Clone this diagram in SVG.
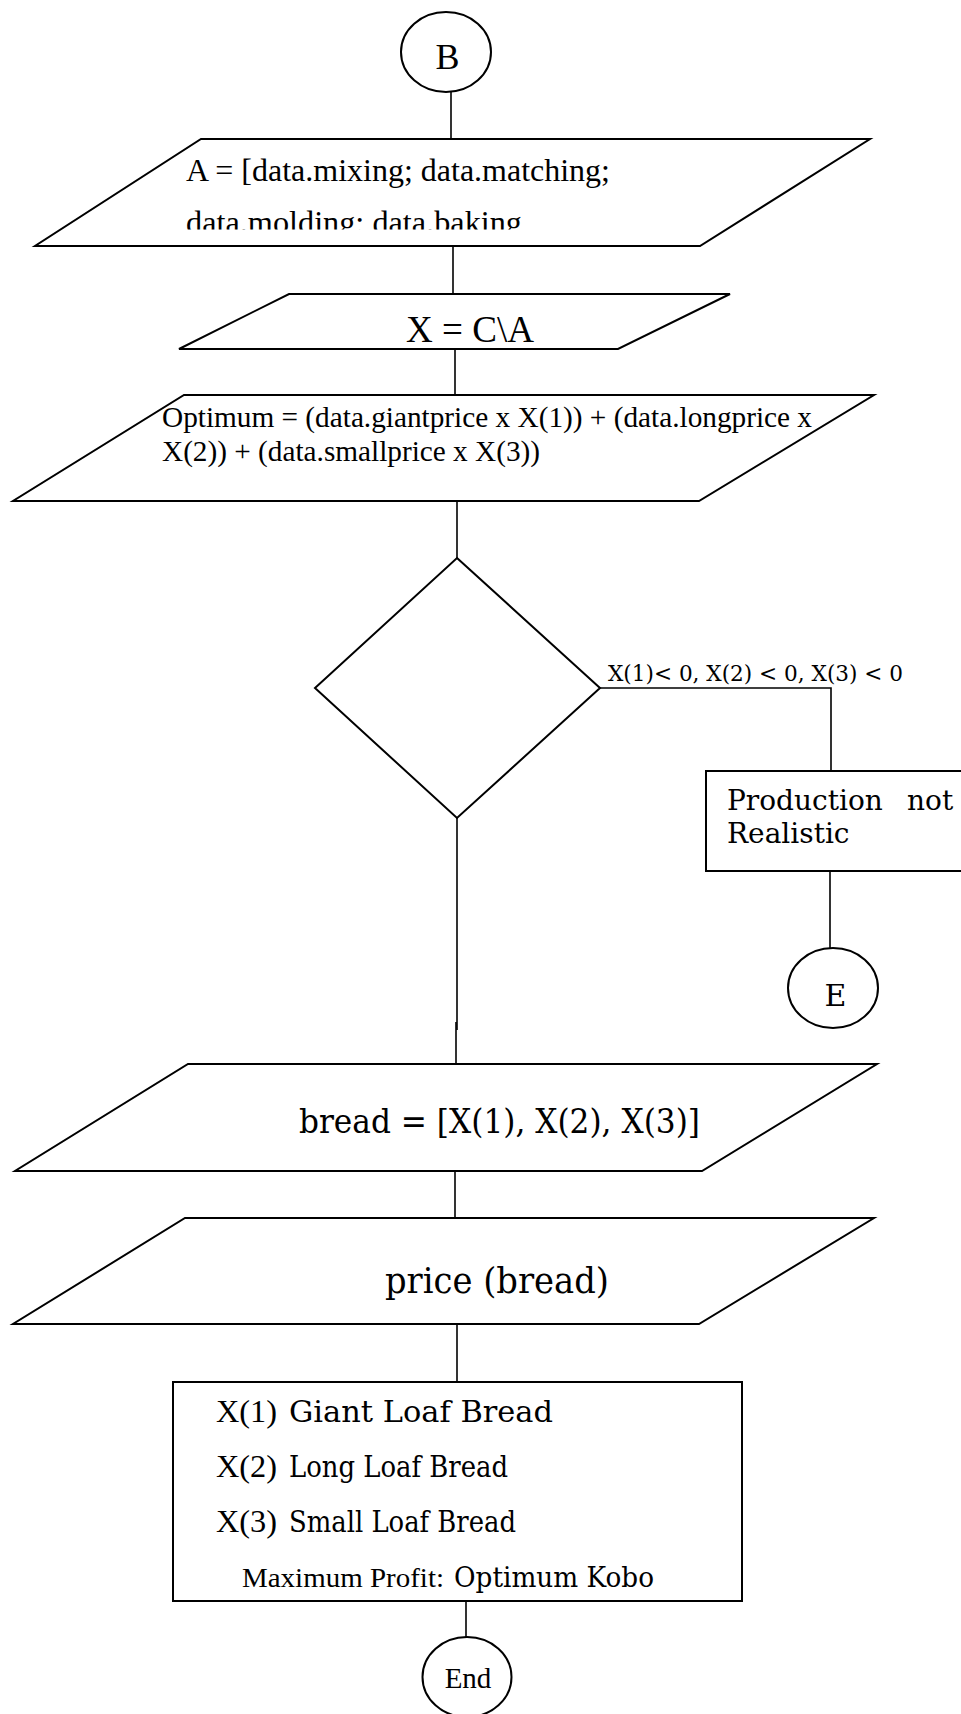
<svg xmlns="http://www.w3.org/2000/svg" width="961" height="1714" viewBox="0 0 961 1714">
  <style>
    .shape { fill: #ffffff; stroke: #000000; stroke-width: 2; }
    .wire { fill: none; stroke: #000000; stroke-width: 1.6; }
    .tnr { font-family: "Liberation Serif", "Times New Roman", serif; fill: #000000; }
    .bk { font-family: "DejaVu Serif", "Liberation Serif", serif; fill: #000000; }
  </style>
  <defs>
    <clipPath id="clipA">
      <rect x="0" y="140" width="961" height="89.5"/>
    </clipPath>
  </defs>
  <rect width="961" height="1714" fill="#ffffff"/>

  <!-- connectors -->
  <g id="connectors">
    <line class="wire" x1="451" y1="92" x2="451" y2="139"/>
    <line class="wire" x1="453" y1="246" x2="453" y2="294"/>
    <line class="wire" x1="455" y1="349" x2="455" y2="395"/>
    <line class="wire" x1="457" y1="501" x2="457" y2="558"/>
    <polyline class="wire" points="600,688 831,688 831,771"/>
    <line class="wire" x1="830" y1="871" x2="830" y2="948"/>
    <line class="wire" x1="457" y1="818" x2="457" y2="1030"/>
    <line class="wire" x1="456" y1="1022" x2="456" y2="1064"/>
    <line class="wire" x1="455" y1="1171" x2="455" y2="1218"/>
    <line class="wire" x1="457" y1="1324" x2="457" y2="1382"/>
    <line class="wire" x1="466" y1="1601" x2="466" y2="1637"/>
  </g>

  <!-- connector B -->
  <g id="node-B">
    <ellipse class="shape" cx="446" cy="52" rx="45" ry="40"/>
    <text class="tnr" x="447.5" y="69" font-size="36" text-anchor="middle">B</text>
  </g>

  <!-- input A -->
  <g id="node-A">
    <polygon class="shape" points="201,139 870,139 700,246 35,246"/>
    <text class="tnr" x="186" y="181" font-size="31" textLength="424" lengthAdjust="spacingAndGlyphs">A = [data.mixing; data.matching;</text>
    <text class="tnr" x="186" y="233" font-size="32" textLength="336" lengthAdjust="spacingAndGlyphs" clip-path="url(#clipA)">data.molding; data.baking</text>
  </g>

  <!-- X = C\A -->
  <g id="node-X">
    <polygon class="shape" points="289,294 730,294 618,349 179,349"/>
    <text class="tnr" x="406" y="342" font-size="37" textLength="128" lengthAdjust="spacingAndGlyphs">X = C\A</text>
  </g>

  <!-- objective -->
  <g id="node-optimum">
    <polygon class="shape" points="184,395 874,395 699,501 13,501"/>
    <text class="tnr" x="162" y="427" font-size="29" textLength="650" lengthAdjust="spacingAndGlyphs">Optimum = (data.giantprice x X(1)) + (data.longprice x</text>
    <text class="tnr" x="162" y="461" font-size="29" textLength="378" lengthAdjust="spacingAndGlyphs">X(2)) + (data.smallprice x X(3))</text>
  </g>

  <!-- decision -->
  <g id="node-decision">
    <polygon class="shape" points="457,558 600,688 457,818 315,688"/>
    <text class="bk" x="608" y="681" font-size="22" textLength="295" lengthAdjust="spacingAndGlyphs">X(1)&lt; 0, X(2) &lt; 0, X(3) &lt; 0</text>
  </g>

  <!-- not realistic -->
  <g id="node-unrealistic">
    <rect class="shape" x="706" y="771" width="270" height="100"/>
    <text class="bk" x="727" y="810" font-size="28">Production</text>
    <text class="bk" x="907" y="810" font-size="28">not</text>
    <text class="bk" x="727" y="843" font-size="28">Realistic</text>
  </g>

  <!-- connector E -->
  <g id="node-E">
    <ellipse class="shape" cx="833" cy="988" rx="45" ry="40"/>
    <text class="bk" x="835.5" y="1006" font-size="30" text-anchor="middle">E</text>
  </g>

  <!-- bread vector -->
  <g id="node-bread">
    <polygon class="shape" points="188,1064 877,1064 702,1171 15,1171"/>
    <text class="bk" x="299" y="1133" font-size="33" textLength="401" lengthAdjust="spacingAndGlyphs">bread = [X(1), X(2), X(3)]</text>
  </g>

  <!-- price -->
  <g id="node-price">
    <polygon class="shape" points="185,1218 874,1218 699,1324 13,1324"/>
    <text class="bk" x="385" y="1293" font-size="35" textLength="224" lengthAdjust="spacingAndGlyphs">price (bread)</text>
  </g>

  <!-- result -->
  <g id="node-result">
    <rect class="shape" x="173" y="1382" width="569" height="219"/>
    <text class="tnr" x="216" y="1422" font-size="31" textLength="61" lengthAdjust="spacingAndGlyphs">X(1)</text>
    <text class="bk" x="289" y="1422" font-size="30" textLength="264" lengthAdjust="spacingAndGlyphs">Giant Loaf Bread</text>
    <text class="tnr" x="216" y="1477" font-size="31" textLength="61" lengthAdjust="spacingAndGlyphs">X(2)</text>
    <text class="bk" x="289" y="1477" font-size="30" textLength="219" lengthAdjust="spacingAndGlyphs">Long Loaf Bread</text>
    <text class="tnr" x="216" y="1532" font-size="31" textLength="61" lengthAdjust="spacingAndGlyphs">X(3)</text>
    <text class="bk" x="289" y="1532" font-size="30" textLength="227" lengthAdjust="spacingAndGlyphs">Small Loaf Bread</text>
    <text class="tnr" x="242" y="1587" font-size="28" textLength="202" lengthAdjust="spacingAndGlyphs">Maximum Profit:</text>
    <text class="bk" x="454" y="1587" font-size="27" textLength="200" lengthAdjust="spacingAndGlyphs">Optimum Kobo</text>
  </g>

  <!-- terminator -->
  <g id="node-end">
    <ellipse class="shape" cx="467" cy="1677" rx="44.5" ry="40"/>
    <text class="tnr" x="468" y="1688" font-size="29" text-anchor="middle">End</text>
  </g>
</svg>
